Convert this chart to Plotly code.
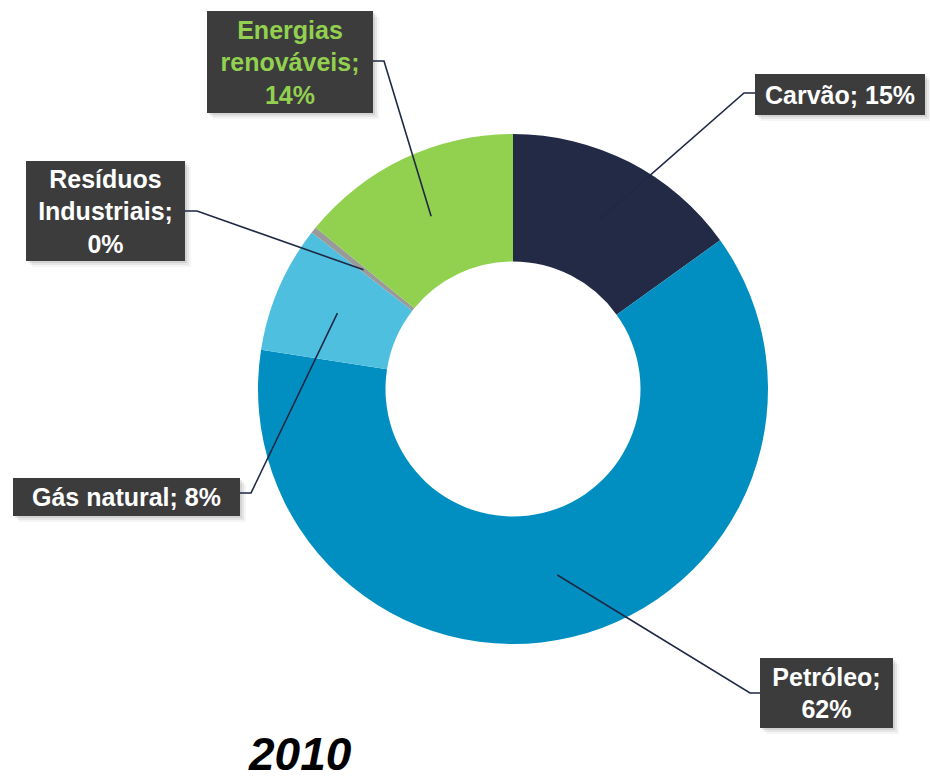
import math
import plotly.graph_objects as go

# Energy sources and their shares (percent)
categories = ["Carvão", "Petróleo", "Gás natural", "Resíduos Industriais", "Energias renováveis"]
shares = [15, 62, 8, 0.4, 14]
label_formats = [
    "Carvão; {p}%",
    "Petróleo;<br>{p}%",
    "Gás natural; {p}%",
    "Resíduos<br>Industriais;<br>{p}%",
    "Energias<br>renováveis;<br>{p}%",
]
year = "2010"

colors = ["#222a45", "#008fc0", "#4fbfdf", "#9a9a9a", "#92d050"]
text_colors = ["white", "white", "white", "white", "#92d050"]

W, H = 930, 781
CX, CY, R = 513, 389, 255      # donut centre and outer radius (px)
HOLE = 0.5

# label boxes (x0, y0, x1, y1) in px and leader-line elbow points
boxes = [
    (755, 74, 925, 115),
    (760, 658, 893, 728),
    (13, 478, 240, 516),
    (26, 161, 185, 261),
    (207, 11, 373, 113),
]
elbows = [(744, 93), (750, 693), (251, 493), (197, 211), (384, 61)]


def px(x):
    return x / W


def py(y):
    return 1 - y / H


fig = go.Figure(
    go.Pie(
        labels=categories,
        values=shares,
        hole=HOLE,
        sort=False,
        direction="clockwise",
        rotation=0,
        marker=dict(colors=colors, line=dict(width=0)),
        textinfo="none",
        hoverinfo="label+percent",
        showlegend=False,
        domain=dict(x=[px(CX - R), px(CX + R)], y=[py(CY + R), py(CY - R)]),
    )
)

total = sum(shares)
cum = 0.0
shapes = []
annotations = []
r_mid = R * (1 + HOLE) / 2
for i, v in enumerate(shares):
    theta = 2 * math.pi * (cum + v / 2) / total
    cum += v
    sx = CX + r_mid * math.sin(theta)
    sy = CY - r_mid * math.cos(theta)
    x0, y0, x1, y1 = boxes[i]
    ex, ey = elbows[i]
    bx = x0 if ex < x0 else x1

    # soft drop shadow behind the label box
    for k, op in [(6, 0.08), (4, 0.12), (2, 0.18)]:
        shapes.append(dict(
            type="rect", xref="paper", yref="paper", layer="above",
            x0=px(x0 + k), x1=px(x1 + k), y0=py(y1 + k), y1=py(y0 + k),
            fillcolor="#7f7f7f", opacity=op, line=dict(width=0),
        ))

    # leader line: slice midpoint -> elbow -> label box
    shapes.append(dict(
        type="path", xref="paper", yref="paper", layer="above",
        path=f"M {px(sx)},{py(sy)} L {px(ex)},{py(ey)} L {px(bx)},{py(ey)}",
        line=dict(color="#1f2844", width=1.6),
    ))

    pct = round(100 * v / total)
    annotations.append(dict(
        xref="paper", yref="paper",
        x=px(x0), y=py(y0), xanchor="left", yanchor="top",
        width=x1 - x0, height=y1 - y0,
        text="<b>" + label_formats[i].format(p=pct).replace("<br>", "</b><br><b>") + "</b>",
        showarrow=False, align="center", valign="middle",
        bgcolor="#3c3c3c", borderpad=0, borderwidth=0,
        font=dict(family="Arial, Liberation Sans, sans-serif", size=25,
                  color=text_colors[i]),
    ))

annotations.append(dict(
    xref="paper", yref="paper", x=px(300), y=py(754),
    xanchor="center", yanchor="middle",
    text=f"<b><i>{year}</i></b>", showarrow=False,
    font=dict(family="Arial, Liberation Sans, sans-serif", size=46, color="black"),
))

fig.update_layout(
    width=W, height=H,
    margin=dict(l=0, r=0, t=0, b=0),
    paper_bgcolor="white", plot_bgcolor="white",
    shapes=shapes, annotations=annotations,
)

fig.write_html("out.html")
